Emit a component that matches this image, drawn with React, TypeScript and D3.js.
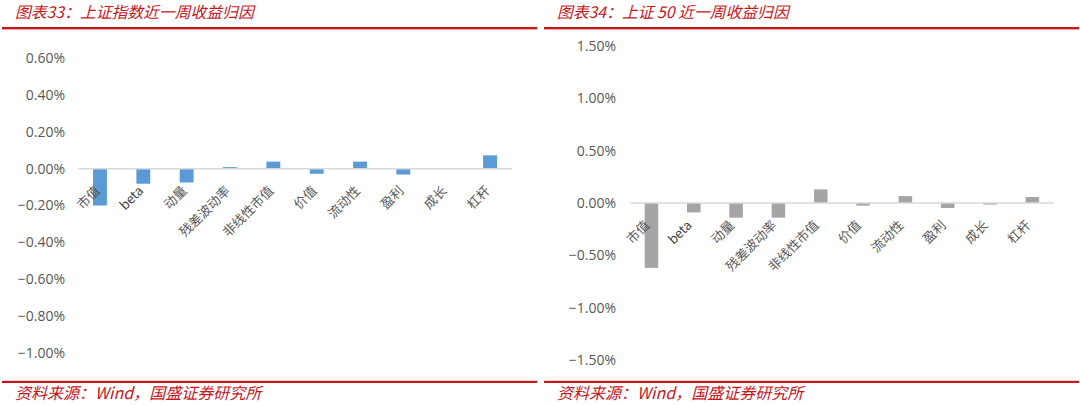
import React from "react";
import * as d3 from "d3";

const categories = ["市值", "beta", "动量", "残差波动率", "非线性市值", "价值", "流动性", "盈利", "成长", "杠杆"];
const shValues = [-0.2, -0.082, -0.075, 0.008, 0.038, -0.028, 0.038, -0.032, 0, 0.072];
const sz50Values = [-0.62, -0.09, -0.14, -0.14, 0.13, -0.025, 0.066, -0.048, -0.015, 0.057];
const shTicks = [0.6, 0.4, 0.2, 0, -0.2, -0.4, -0.6, -0.8, -1.0];
const sz50Ticks = [1.5, 1.0, 0.5, 0, -0.5, -1.0, -1.5];

const RED = "#C8161D";
const TITLE_FONT = "'Noto Sans CJK SC', sans-serif";

type PanelProps = {
  x0: number;
  title: string;
  values: number[];
  ticks: number[];
  yDomain: [number, number];
  yRange: [number, number];
  xRange: [number, number];
  color: string;
  labelRight: number;
  labelDx: number;
};

function Panel({ x0, title, values, ticks, yDomain, yRange, xRange, color, labelRight, labelDx }: PanelProps) {
  const y = d3.scaleLinear().domain(yDomain).range(yRange);
  const x = d3.scaleBand<string>().domain(categories).range(xRange).paddingInner(0.68).paddingOuter(0.34);
  const z = y(0);
  return (
    <g>
      <text x={x0 + 15} y={18} fill={RED} fontSize={15.8} fontStyle="italic" fontFamily={TITLE_FONT}>{title}</text>
      <rect x={x0 + 2} y={27} width={535} height={2.4} fill={RED} />
      <rect x={x0 + 2} y={380.8} width={535} height={2.2} fill={RED} />
      <text x={x0 + 15} y={399} fill={RED} fontSize={16} fontStyle="italic" fontFamily={TITLE_FONT}>资料来源：Wind，国盛证券研究所</text>
      {ticks.map((t) => (
        <text key={t} x={labelRight} y={y(t)} dy="0.35em" textAnchor="end" fill="#595959" fontSize={14} fontFamily="'Open Sans', sans-serif">
          {d3.format(".2%")(t / 100)}
        </text>
      ))}
      {values.map((v, i) => {
        const c = categories[i];
        const top = Math.min(y(v), z);
        const h = Math.abs(y(v) - z);
        return <rect key={c} x={x(c)} y={top} width={x.bandwidth()} height={Math.max(h, 0)} fill={color} />;
      })}
      <line x1={xRange[0]} x2={xRange[1]} y1={z} y2={z} stroke="#D9D9D9" strokeWidth={1.5} />
      {categories.map((c) => {
        const cx = (x(c) as number) + x.bandwidth() / 2 + labelDx;
        const cy = z + 23;
        return (
          <text key={c} x={cx} y={cy} textAnchor="end" transform={`rotate(-45 ${cx} ${cy})`} fill={c === "beta" ? "#404040" : "#595959"} fontSize={13} fontFamily="'Noto Sans CJK SC', sans-serif">
            {c}
          </text>
        );
      })}
    </g>
  );
}

export default function App() {
  return (
    <svg width={1080} height={405} style={{ position: "absolute", left: 0, top: 0, background: "#fff" }}>
      <rect width={1080} height={405} fill="#fff" />
      <Panel
        x0={0}
        title="图表33：上证指数近一周收益归因"
        values={shValues}
        ticks={shTicks}
        yDomain={[0.6, -1.0]}
        yRange={[58, 353]}
        xRange={[78.3, 511.7]}
        color="#5B9BD5"
        labelRight={65}
        labelDx={1}
      />
      <Panel
        x0={542}
        title="图表34：上证 50 近一周收益归因"
        values={sz50Values}
        ticks={sz50Ticks}
        yDomain={[1.5, -1.5]}
        yRange={[46, 360]}
        xRange={[630.3, 1053.5]}
        color="#A5A5A5"
        labelRight={616}
        labelDx={-1}
      />
    </svg>
  );
}
